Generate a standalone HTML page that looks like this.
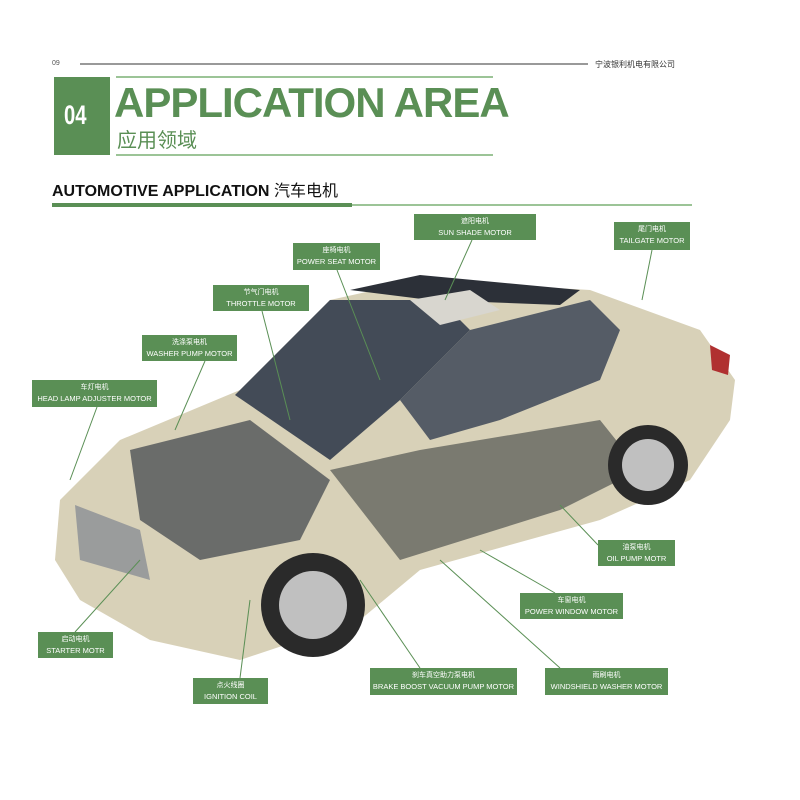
<!DOCTYPE html>
<html><head><meta charset="utf-8"><style>
body{margin:0;width:800px;height:800px;background:#fff;overflow:hidden;position:relative;font-family:"Liberation Sans","Noto Sans CJK SC",sans-serif}
.a{position:absolute}
.lb{position:absolute;background:#5a8f55;color:#fff;text-align:center;font-size:7px;line-height:11px;padding-top:2px;box-sizing:border-box}
.lb b{display:block;font-weight:normal;font-size:7.5px}
</style></head><body>
<div class="a" style="left:52px;top:60px;font-size:7px;color:#555">09</div>
<div class="a" style="left:80px;top:63px;width:508px;height:2px;background:#999"></div>
<div class="a" style="left:595px;top:59px;font-size:8px;color:#333">宁波银利机电有限公司</div>
<div class="a" style="left:54px;top:77px;width:56px;height:78px;background:#5a8f55"></div>
<div class="a" style="left:64px;top:100px;font-size:27px;font-weight:bold;color:#fff;transform:scaleX(.75);transform-origin:left">04</div>
<div class="a" style="left:116px;top:76px;width:377px;height:2px;background:#9cc497"></div>
<div class="a" style="left:116px;top:154px;width:377px;height:2px;background:#9cc497"></div>
<div class="a" style="left:114px;top:79px;font-size:42px;font-weight:bold;color:#5a8f55;letter-spacing:-1px">APPLICATION AREA</div>
<div class="a" style="left:117px;top:124px;font-size:20px;color:#5a8f55">应用领域</div>
<div class="a" style="left:52px;top:177px;font-size:16px;font-weight:bold;color:#111">AUTOMOTIVE APPLICATION <span style="font-weight:normal">汽车电机</span></div>
<div class="a" style="left:52px;top:204px;width:640px;height:2px;background:#9cc497"></div>
<div class="a" style="left:52px;top:203px;width:300px;height:4px;background:#5a8f55"></div>
<svg class="a" style="left:0;top:0" width="800" height="800">
<polygon points="60,500 120,440 240,390 330,300 420,280 590,290 700,330 735,380 730,420 690,480 600,520 420,570 360,620 240,660 150,640 80,600 55,560" fill="#d8d1b8"/>
<polygon points="235,395 330,300 440,300 470,330 400,400 330,460" fill="#434b57"/>
<polygon points="400,400 470,330 590,300 620,330 600,380 500,420 430,440" fill="#555c66"/>
<polygon points="350,290 420,275 580,290 560,305 430,300" fill="#2c3038"/>
<polygon points="410,300 470,290 500,310 440,325" fill="#d8d6cf"/>
<polygon points="130,450 250,420 330,480 300,540 200,560 140,520" fill="#6a6c6a"/>
<polygon points="330,470 420,450 600,420 640,470 560,510 400,560" fill="#7a7a70"/>
<polygon points="75,505 140,530 150,580 80,560" fill="#9a9c9c"/>
<circle cx="313" cy="605" r="52" fill="#2a2a2a"/><circle cx="313" cy="605" r="34" fill="#c0c0c0"/>
<circle cx="648" cy="465" r="40" fill="#2a2a2a"/><circle cx="648" cy="465" r="26" fill="#c0c0c0"/>
<polygon points="710,345 730,355 728,375 712,370" fill="#b03030"/>
<g stroke="#5a8f55" stroke-width="1">
<line x1="472" y1="240" x2="445" y2="300"/><line x1="652" y1="250" x2="642" y2="300"/>
<line x1="337" y1="270" x2="380" y2="380"/><line x1="262" y1="311" x2="290" y2="420"/>
<line x1="205" y1="361" x2="175" y2="430"/><line x1="97" y1="407" x2="70" y2="480"/>
<line x1="598" y1="545" x2="560" y2="505"/><line x1="555" y1="593" x2="480" y2="550"/>
<line x1="75" y1="632" x2="140" y2="560"/><line x1="240" y1="678" x2="250" y2="600"/>
<line x1="420" y1="668" x2="360" y2="580"/><line x1="560" y1="668" x2="440" y2="560"/>
</g></svg>
<div class="lb" style="left:414px;top:214px;width:122px;height:26px">遮阳电机<b>SUN SHADE MOTOR</b></div>
<div class="lb" style="left:614px;top:222px;width:76px;height:28px">尾门电机<b>TAILGATE MOTOR</b></div>
<div class="lb" style="left:293px;top:243px;width:87px;height:27px">座椅电机<b>POWER SEAT MOTOR</b></div>
<div class="lb" style="left:213px;top:285px;width:96px;height:26px">节气门电机<b>THROTTLE MOTOR</b></div>
<div class="lb" style="left:142px;top:335px;width:95px;height:26px">洗涤泵电机<b>WASHER PUMP MOTOR</b></div>
<div class="lb" style="left:32px;top:380px;width:125px;height:27px">车灯电机<b>HEAD LAMP ADJUSTER MOTOR</b></div>
<div class="lb" style="left:598px;top:540px;width:77px;height:26px">油泵电机<b>OIL PUMP MOTR</b></div>
<div class="lb" style="left:520px;top:593px;width:103px;height:26px">车窗电机<b>POWER WINDOW MOTOR</b></div>
<div class="lb" style="left:38px;top:632px;width:75px;height:26px">启动电机<b>STARTER MOTR</b></div>
<div class="lb" style="left:193px;top:678px;width:75px;height:26px">点火线圈<b>IGNITION COIL</b></div>
<div class="lb" style="left:370px;top:668px;width:147px;height:27px">刹车真空助力泵电机<b>BRAKE BOOST VACUUM PUMP MOTOR</b></div>
<div class="lb" style="left:545px;top:668px;width:123px;height:27px">雨刷电机<b>WINDSHIELD WASHER MOTOR</b></div>
</body></html>
